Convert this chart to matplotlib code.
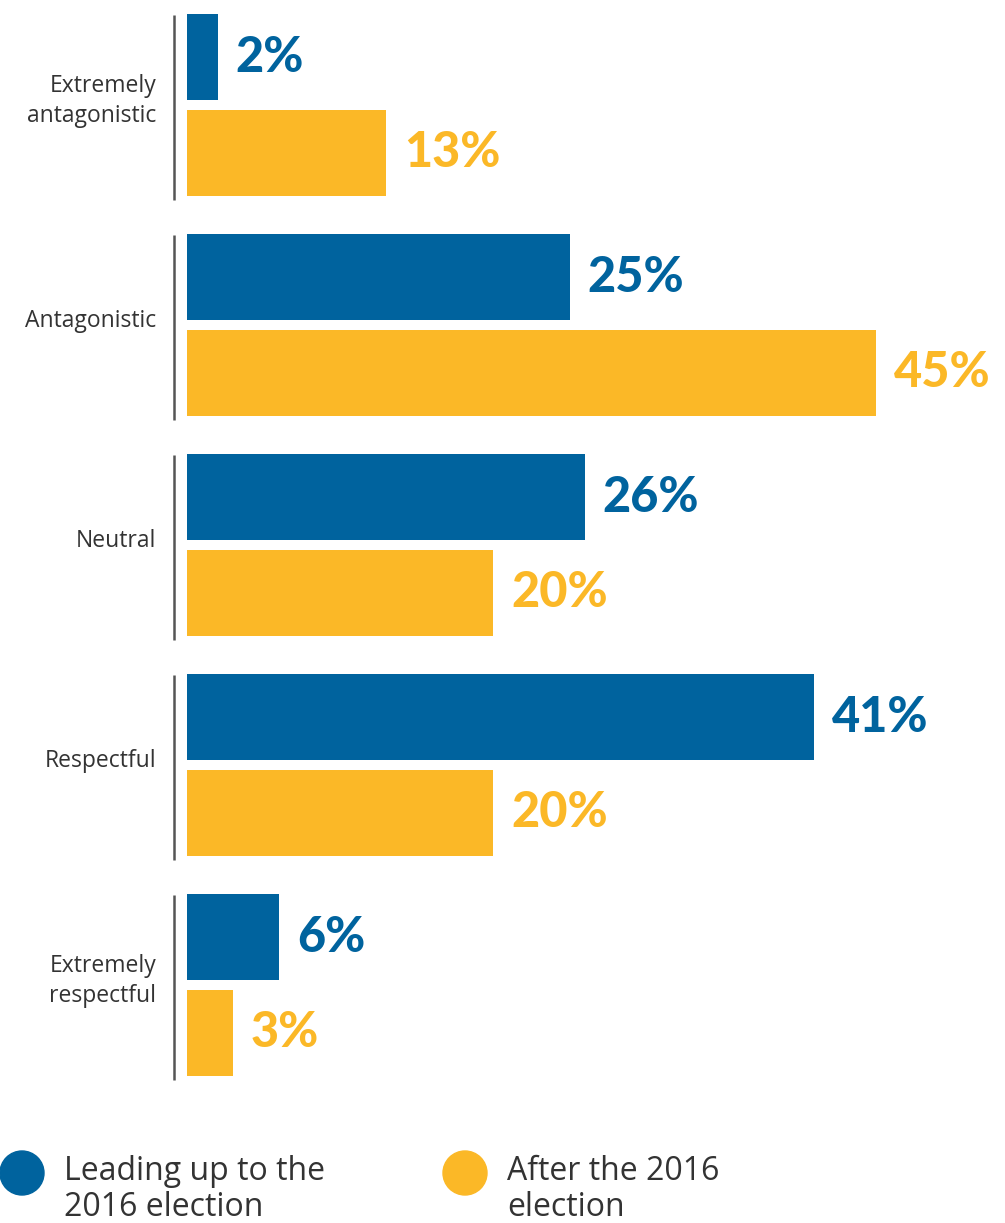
import matplotlib
matplotlib.use("Agg")
import matplotlib.pyplot as plt
from matplotlib.patches import Circle
import numpy as np

# data
categories = ["Extremely\nantagonistic", "Antagonistic", "Neutral", "Respectful", "Extremely\nrespectful"]
before = [2, 25, 26, 41, 6]
after = [13, 45, 20, 20, 3]
series_names = ["Leading up to the\n2016 election", "After the 2016\nelection"]

BLUE = "#00639E"
ORANGE = "#FBB827"
TEXT = "#333333"

W, H = 1005, 1223
fig = plt.figure(figsize=(W / 100, H / 100), dpi=100)
plt.rcParams['font.family'] = ['Lato', 'DejaVu Sans']
REG = ['Open Sans', 'DejaVu Sans']

# axes placed so that x data = percent, starting at bar origin
x0 = 187
ax = fig.add_axes([x0 / W, 1 - 1100 / H, (W - x0) / W, 1100 / H])
ax.set_xlim(0, (W - x0) / 15.3)
ax.set_ylim((1100 - 105) / 220, -105 / 220)
ax.axis("off")

y = np.arange(len(categories))
off = 0.218
h = 0.39
ax.barh(y - off, before, height=h, color=BLUE)
ax.barh(y + off, after, height=h, color=ORANGE)

for yi, v in zip(y, before):
    ax.annotate(f"{v}%", (v, yi - off), xytext=(13, 0), textcoords="offset points",
                va="center", ha="left", fontsize=35, fontweight="black", color=BLUE)
for yi, v in zip(y, after):
    ax.annotate(f"{v}%", (v, yi + off), xytext=(13, 0), textcoords="offset points",
                va="center", ha="left", fontsize=35, fontweight="black", color=ORANGE)

# group separators and category labels
trans = ax.get_yaxis_transform()
for yi, cat in zip(y, categories):
    ax.plot([-13 / (W - x0)] * 2, [yi - 0.41, yi + 0.43], transform=trans,
            color="#555555", lw=1.8, clip_on=False, solid_capstyle="butt")
    ax.text(-31 / (W - x0), yi - 0.02, cat, transform=trans, ha="right", va="center",
            fontsize=16.5, color=TEXT, linespacing=1.33, family=REG)

# legend
for cx, col, name in zip([0.22, 4.65], [BLUE, ORANGE], series_names):
    fig.add_artist(Circle((cx, (H - 1173) / 100), 0.22, color=col,
                          transform=fig.dpi_scale_trans))
    fig.text((cx + 0.42) * 100 / W, 1 - 1190 / H, name, ha="left", va="center",
             fontsize=23, color=TEXT, linespacing=1.12, family=REG)

fig.savefig("out.png", dpi=100)
